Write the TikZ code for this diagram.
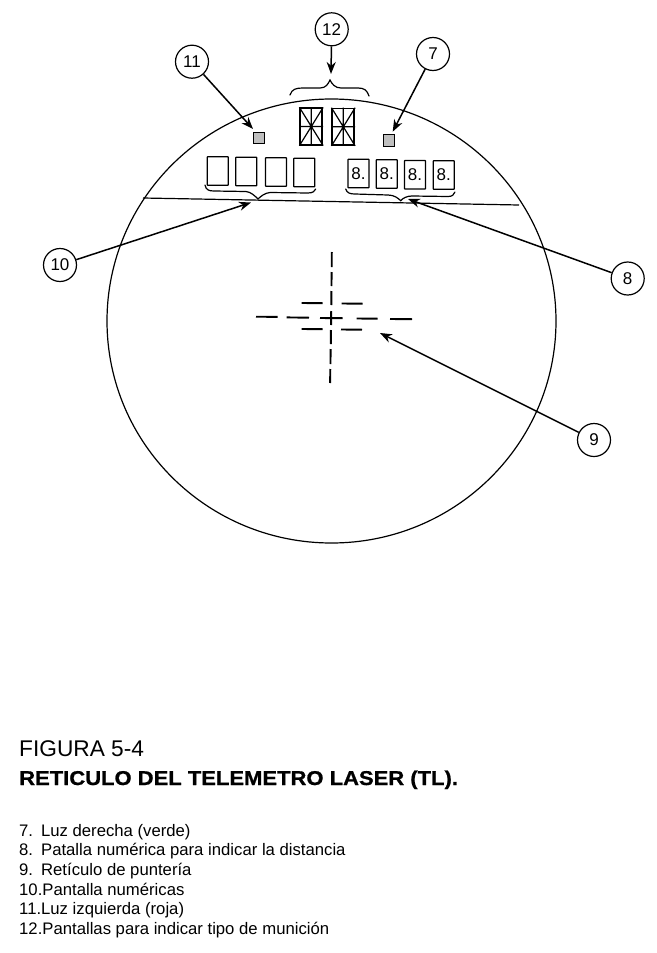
\documentclass[tikz,border=0pt]{standalone}
\usepackage{fontspec}
\setmainfont{Liberation Sans}
\usetikzlibrary{arrows.meta}
\newcommand{\fs}[1]{\fontsize{#1}{#1}\selectfont}
\tikzset{
  callout/.style={circle,draw,line width=1.2pt,minimum size=33pt,inner sep=0pt,fill=white,font=\fs{17}},
  pointer/.style={line width=1.5pt,-{Stealth[length=12pt,width=9pt]}},
  outline/.style={line width=1.2pt},
  digitbox/.style={draw,line width=1.3pt,rounded corners=0.5pt,minimum width=21pt,minimum height=28.5pt,inner sep=0pt,font=\fs{17}},
  segbox/.style={draw,line width=1.7pt,minimum width=22pt,minimum height=36.5pt,inner sep=0pt},
  lamp/.style={draw,line width=1.3pt,fill=black!25,minimum size=11.5pt,inner sep=0pt},
  bracket/.style={line width=1.2pt,line cap=round},
  retdash/.style={line width=1.9pt},
  listitem/.style={anchor=base west,inner sep=0pt,font=\fs{16.7}}
}
\newcommand{\segments}[1]{
  \draw[line width=1.2pt] (#1.north) -- (#1.south) (#1.west) -- (#1.east) (#1.north west) -- (#1.south east) (#1.north east) -- (#1.south west);
}
\begin{document}
\begin{tikzpicture}[x=1pt,y=-1pt]
\useasboundingbox[fill=white] (0,0) rectangle (656,953);
% outer reticle
\draw[outline] (331.5,321) ellipse [x radius=224.5,y radius=222];
\draw[outline] (143,198) -- (519,205);
% ammunition displays
\node[segbox] (d1) at (311.3,126.5) {};
\node[segbox] (d2) at (343.3,126.8) {};
\segments{d1}\segments{d2}
% lamps
\node[lamp] (lampL) at (259,138) {};
\node[lamp] (lampR) at (389,140.5) {};
% empty numeric displays
\node[digitbox] (a1) at (217.8,171) {};
\node[digitbox] (a2) at (246.3,171.5) {};
\node[digitbox] (a3) at (276,172) {};
\node[digitbox] (a4) at (304.2,172.5) {};
% numeric displays
\node[digitbox] (b1) at (358.5,173.5) {8.};
\node[digitbox] (b2) at (386.8,174) {8.};
\node[digitbox] (b3) at (415,174.8) {8.};
\node[digitbox] (b4) at (443.7,175) {8.};
% braces
\draw[bracket] (290,95) .. controls (292,89) and (296,88) .. (303,88) -- (320,88) .. controls (326,88) and (328,84) .. (330,80) .. controls (332,84) and (335,88) .. (341,88) -- (358,88) .. controls (364,88) and (367,90) .. (369,96);
\draw[bracket] (205,185) .. controls (206,190) and (209,191) .. (214,191) -- (246,191.5) .. controls (251,192) and (255,196) .. (258,199) .. controls (261,196) and (265,193) .. (270,192.5) -- (308,193) .. controls (313,193) and (315,191) .. (315.7,189);
\draw[bracket] (345.7,189) .. controls (347,193) and (350,194) .. (355,194) -- (388,195) .. controls (394,195) and (398,198) .. (400.7,200.7) .. controls (403,198) and (407,196) .. (412,196) -- (448,196.5) .. controls (452,196.5) and (454,195) .. (455,192);
% crosshair
\foreach \ya/\yb/\xa/\xb in {252/267/331.8/331.7,272/286/331.6/331.5,291/305/331.4/331.3,311/325/331.2/331.1,330/344/330.9/330.8,349/364/330.6/330.5,369/383/330.3/330.1}
  \draw[retdash] (\xa,\ya) -- (\xb,\yb);
\draw[retdash] (256,316.7) -- (277.7,316.9);
\draw[retdash] (286.7,317.4) -- (309,317.7);
\draw[retdash] (320,318) -- (342.7,318.2);
\draw[retdash] (356.7,318.5) -- (377.7,318.7);
\draw[retdash] (390,319) -- (412,319.2);
\draw[retdash] (301.7,303) -- (322.7,303.2);
\draw[retdash] (341.7,303.5) -- (362.7,303.7);
\draw[retdash] (301.7,329) -- (322.7,329.2);
\draw[retdash] (341,329.5) -- (362,329.7);
% callouts
\node[callout] (n12) at (331.7,29.3) {12};
\node[callout] (n11) at (192,61.7) {11};
\node[callout] (n7) at (433,54) {7};
\node[callout] (n10) at (60,265) {10};
\node[callout] (n8) at (627.7,278.5) {8};
\node[callout] (n9) at (594,440) {9};
\coordinate (t12) at (331,74);
\coordinate (t11) at (253,129);
\coordinate (t7) at (392.7,131.7);
\coordinate (t10) at (251,202.5);
\coordinate (t8) at (408,199);
\coordinate (t9) at (380,333);
\foreach \s/\t in {n12/t12,n11/t11,n7/t7,n10/t10,n8/t8,n9/t9}
  \draw[pointer] (\s) -- (\t);
% caption
\node[anchor=base west,inner sep=0pt,font=\fs{22.7}] (cap1) at (19,756) {FIGURA 5-4};
\node[anchor=base west,inner sep=0pt,font=\fs{20}\bfseries\addfontfeature{FakeBold=0.8},xscale=1.1] (cap2) at (19,785) {RETICULO DEL TELEMETRO LASER (TL).};
\node[listitem] (l7) at (19,836.5) {7.\hspace{8pt}Luz derecha (verde)};
\node[listitem] (l8) at (19,855) {8.\hspace{8pt}Patalla numérica para indicar la distancia};
\node[listitem] (l9) at (19,875) {9.\hspace{8pt}Retículo de puntería};
\node[listitem] (l10) at (19,895) {10.Pantalla numéricas};
\node[listitem] (l11) at (19,914.5) {11.Luz izquierda (roja)};
\node[listitem] (l12) at (19,934) {12.Pantallas para indicar tipo de munición};
\end{tikzpicture}
\end{document}
